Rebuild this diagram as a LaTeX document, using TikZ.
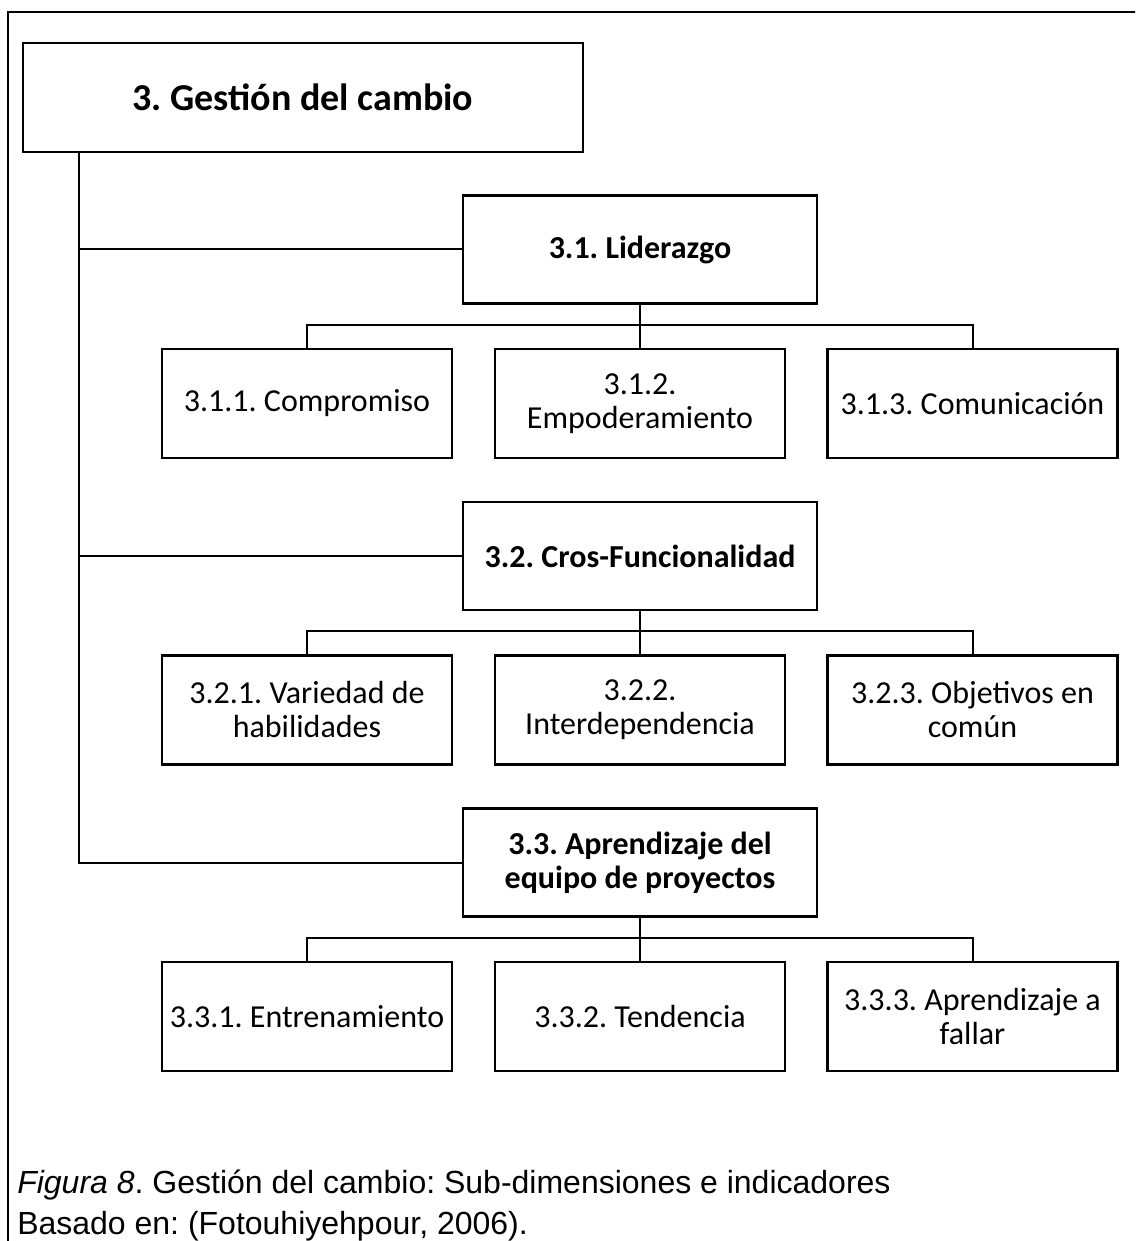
\documentclass[tikz,border=0pt]{standalone}
\usepackage{fontspec}
\setmainfont{Carlito}
\newfontfamily\captionfont{Liberation Sans}
\frenchspacing
\begin{document}
\begin{tikzpicture}[x=0.75pt,y=-0.75pt,
  frameline/.style={line width=1.5pt},
  link/.style={line width=1.5pt},
  box/.style={draw, line width=1.8pt, inner sep=0pt, align=center},
  titlebox/.style={box, minimum width=420pt, minimum height=81.75pt,
    font=\fontsize{28.5}{30}\selectfont\bfseries},
  subbox/.style={box, minimum width=265.5pt, minimum height=81pt,
    font=\fontsize{24}{25.5}\selectfont\bfseries},
  leafbox/.style={box, minimum width=217.5pt, minimum height=81.75pt,
    font=\fontsize{24}{25.5}\selectfont},
  captext/.style={anchor=base west, inner sep=0pt,
    font=\captionfont\fontsize{24}{26}\selectfont}]

  \clip (0,0) rectangle (1135,1241);
  \useasboundingbox (0,0) rectangle (1135,1241);

  % outer frame (open to the right and bottom)
  \draw[frameline] (8,1300) -- (8,12) -- (1160,12);

  % dimension
  \node[titlebox] (top) at (303,97.5) {3. Gestión del cambio};

  % sub-dimensions
  \node[subbox] (s1) at (640,249.5) {3.1. Liderazgo};
  \node[subbox] (s2) at (640,556)   {3.2. Cros-Funcionalidad};
  \node[subbox] (s3) at (640,862.5) {3.3. Aprendizaje del\\equipo de proyectos};

  % indicators
  \node[leafbox] (l11) at (307,403.5)   {3.1.1. Compromiso};
  \node[leafbox] (l12) at (640,403.5)   {3.1.2.\\Empoderamiento};
  \node[leafbox] (l13) at (972.5,403.5) {3.1.3. Comunicación};

  \node[leafbox] (l21) at (307,710)   {3.2.1. Variedad de\\habilidades};
  \node[leafbox] (l22) at (640,710)   {3.2.2.\\Interdependencia};
  \node[leafbox] (l23) at (972.5,710) {3.2.3. Objetivos en\\común};

  \node[leafbox] (l31) at (307,1016.5)   {3.3.1. Entrenamiento};
  \node[leafbox] (l32) at (640,1016.5)   {3.3.2. Tendencia};
  \node[leafbox] (l33) at (972.5,1016.5) {3.3.3. Aprendizaje a\\fallar};

  % trunk from the dimension to each sub-dimension
  \path (top.south west) ++(57,0) coordinate (trunk);
  \draw[link] (trunk) |- (s3.west);
  \draw[link] (trunk |- s1.west) -- (s1.west);
  \draw[link] (trunk |- s2.west) -- (s2.west);

  % sub-dimension to indicators
  \foreach \s/\a/\b/\c in {s1/l11/l12/l13, s2/l21/l22/l23, s3/l31/l32/l33}{
    \draw[link] (\a.north) -- ++(0,-23) -| (\c.north);
    \draw[link] (\s.south) -- (\b.north);
  }

  % caption
  \node[captext] (cap1) at (17,1193)
    {\textit{Figura 8}. Gestión del cambio: Sub-dimensiones e indicadores};
  \node[captext] (cap2) at (17,1234)
    {Basado en: (Fotouhiyehpour, 2006).};
\end{tikzpicture}
\end{document}
